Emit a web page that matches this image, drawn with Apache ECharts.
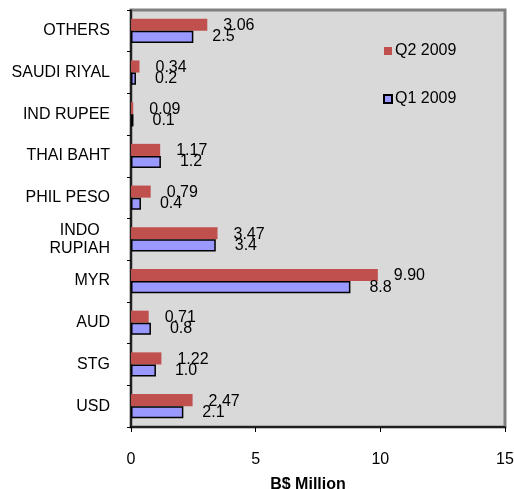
<!DOCTYPE html>
<html>
<head>
<meta charset="utf-8">
<script src="https://cdn.jsdelivr.net/npm/echarts@6/dist/echarts.min.js"></script>
<style>html,body{margin:0;padding:0;background:#fff;}#c{width:514px;height:489px;}</style>
</head>
<body>
<div id="c"></div>
<script>
var categories = ['USD', 'STG', 'AUD', 'MYR', 'INDO\nRUPIAH', 'PHIL PESO', 'THAI BAHT', 'IND RUPEE', 'SAUDI RIYAL', 'OTHERS'];
var q2Values = [2.47, 1.22, 0.71, 9.90, 3.47, 0.79, 1.17, 0.09, 0.34, 3.06];
var q1Values = [2.1, 1.0, 0.8, 8.8, 3.4, 0.4, 1.2, 0.1, 0.2, 2.5];
var xTicks = [0, 5, 10, 15];

var FONT = 'Liberation Sans, Arial, sans-serif';
var FS = 16;
var chart = echarts.init(document.getElementById('c'), null, {renderer: 'canvas'});
chart.setOption({
  animation: false,
  textStyle: {fontFamily: FONT},
  grid: {
    left: 131, right: 9, top: 10, bottom: 62, outerBoundsMode: 'none', containLabel: false,
    show: true, backgroundColor: '#d9d9d9', borderColor: '#808080', borderWidth: 3
  },
  legend: {
    orient: 'vertical', left: 378, top: 38, itemWidth: 8, itemHeight: 8, itemGap: 32,
    icon: 'rect',
    textStyle: {fontFamily: FONT, fontSize: FS, color: '#000', padding: [0, 0, 0, -2]},
    data: ['Q2 2009', 'Q1 2009']
  },
  xAxis: {
    type: 'value', min: xTicks[0], max: xTicks[xTicks.length - 1], interval: 5,
    name: 'B$ Million', nameLocation: 'middle', nameGap: 50,
    nameTextStyle: {fontFamily: FONT, fontSize: FS, fontWeight: 'bold', color: '#000', padding: [0, 20, 0, 0]},
    axisLine: {show: true, lineStyle: {color: '#000', width: 1.5}},
    axisTick: {show: true, length: 5, lineStyle: {color: '#000'}},
    axisLabel: {margin: 25, fontFamily: FONT, fontSize: FS, color: '#000'},
    splitLine: {show: false}
  },
  yAxis: {
    type: 'category', data: categories,
    axisLine: {show: true, lineStyle: {color: '#000', width: 1.5}},
    axisTick: {show: true, length: 4, lineStyle: {color: '#000'}},
    axisLabel: {
      margin: 21, fontFamily: FONT, fontSize: FS, color: '#000', lineHeight: 18,
      formatter: function (v) {
        return v.split('\n').map(function (s) { return '{c|' + s + '}'; }).join('\n');
      },
      rich: {c: {align: 'center', fontFamily: FONT, fontSize: FS, color: '#000', lineHeight: 18}}
    }
  },
  series: [
    {
      name: 'Q2 2009', type: 'bar', data: q2Values, barGap: '0%', barCategoryGap: '42%',
      itemStyle: {color: '#c0504d'},
      label: {show: true, position: 'right', distance: 16, offset: [0, 1], fontFamily: FONT, fontSize: FS, color: '#000',
        formatter: function (p) { return p.value.toFixed(2); }}
    },
    {
      name: 'Q1 2009', type: 'bar', data: q1Values, barGap: '0%', barCategoryGap: '42%',
      itemStyle: {color: '#9999ff', borderColor: '#000', borderWidth: 1.5},
      label: {show: true, position: 'right', distance: 19, fontFamily: FONT, fontSize: FS, color: '#000',
        formatter: function (p) { return p.value.toFixed(1); }}
    }
  ]
});
</script>
</body>
</html>
